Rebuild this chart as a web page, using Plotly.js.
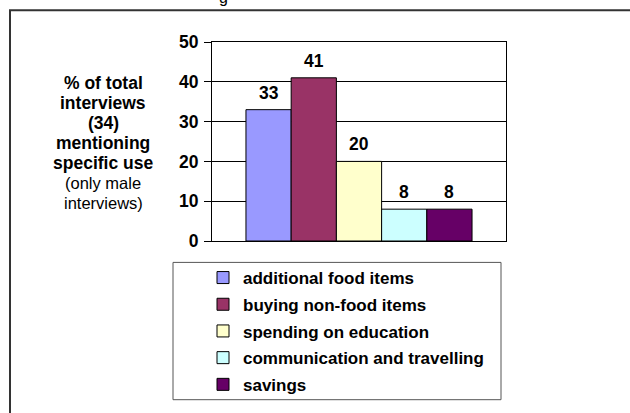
<!DOCTYPE html>
<html>
<head>
<meta charset="utf-8">
<script src="https://cdn.plot.ly/plotly-3.0.1.min.js"></script>
<style>html,body{margin:0;padding:0;background:#fff;}#chart{width:630px;height:413px;}</style>
</head>
<body>
<div id="chart"></div>
<script>
const categories = ['additional food items', 'buying non-food items', 'spending on education', 'communication and travelling', 'savings'];
const values = [33, 41, 20, 8, 8];
const colors = ['#9999FF', '#993366', '#FFFFCC', '#CCFFFF', '#660066'];
const yTicks = [0, 10, 20, 30, 40, 50];
const yTitleBold = ['% of total', 'interviews', '(34)', 'mentioning', 'specific use'];
const yTitleNormal = ['(only male', 'interviews)'];

const FONT = 'Liberation Sans, Arial, sans-serif';
const W = 630, H = 413;
const L = 212, R = 124, T = 42, B = 171;
const plotW = W - L - R, plotH = H - T - B;
const px = (p) => (p - L) / plotW;
const py = (p) => (H - B - p) / plotH;
const bargap = 0.231;
const barPx = plotW * (1 - bargap) / categories.length;

const traces = categories.map((name, i) => ({
  type: 'bar',
  name: name,
  x: ['use'],
  y: [values[i]],
  legendgroup: 'g' + i,
  marker: {color: colors[i], line: {color: '#000', width: 1}},
  hoverinfo: 'none'
}));

const annotations = values.map((v, i) => ({
  x: 'use', xref: 'x', y: v, yref: 'y',
  xshift: (i - (categories.length - 1) / 2) * barPx,
  yshift: 5,
  yanchor: 'bottom', xanchor: 'center',
  text: String(v), showarrow: false,
  font: {family: FONT, size: 17.5, weight: 'bold', color: '#000'}
}));

yTitleBold.concat(yTitleNormal).forEach((line, i) => {
  const bold = i < yTitleBold.length;
  annotations.push({
    xref: 'paper', yref: 'paper', x: px(103), y: py(83 + 20.1 * i),
    xanchor: 'center', yanchor: 'middle', showarrow: false,
    text: line,
    font: {family: FONT, size: bold ? 17.5 : 16.5, weight: bold ? 'bold' : 'normal', color: '#000'}
  });
});

annotations.push({
  xref: 'paper', yref: 'paper', x: px(223), y: py(8),
  xanchor: 'center', yanchor: 'bottom', showarrow: false,
  text: 'g', font: {family: FONT, size: 16, color: '#000'}
});

const layout = {
  width: W, height: H,
  margin: {l: L, r: R, t: T, b: B, pad: 0},
  paper_bgcolor: '#fff', plot_bgcolor: '#fff',
  barmode: 'group', bargap: bargap, bargroupgap: 0,
  showlegend: true,
  legend: {
    x: px(203), xanchor: 'left', y: py(260), yanchor: 'top',
    orientation: 'v', traceorder: 'grouped',
    tracegroupgap: 1.6,
    bgcolor: 'rgba(0,0,0,0)', borderwidth: 0,
    font: {family: FONT, size: 17, weight: 'bold', color: '#000'}
  },
  xaxis: {
    showticklabels: false, ticks: '', showgrid: false, zeroline: false,
    showline: true, linecolor: '#000', linewidth: 1, mirror: true,
    fixedrange: true
  },
  yaxis: {
    range: [0, 50], tickvals: yTicks, ticktext: yTicks.map(String),
    ticks: 'outside', ticklen: 7, tickcolor: '#000', tickwidth: 1,
    showgrid: true, gridcolor: '#000', gridwidth: 1, zeroline: false,
    showline: true, linecolor: '#000', linewidth: 1, mirror: true,
    tickfont: {family: FONT, size: 17.5, weight: 'bold', color: '#000'},
    ticklabelstandoff: 2,
    fixedrange: true
  },
  annotations: annotations,
  shapes: [
    {type: 'rect', xref: 'paper', yref: 'paper', x0: px(10), x1: px(645), y0: py(10), y1: py(430),
     line: {color: '#333', width: 2}, fillcolor: 'rgba(0,0,0,0)', layer: 'below'},
    {type: 'rect', xref: 'paper', yref: 'paper', x0: px(173), x1: px(501), y0: py(263.5), y1: py(401.5),
     line: {color: '#555', width: 1}, fillcolor: 'rgba(0,0,0,0)', layer: 'below'}
  ]
};

Plotly.newPlot('chart', traces, layout, {displayModeBar: false, staticPlot: true});
</script>
</body>
</html>
